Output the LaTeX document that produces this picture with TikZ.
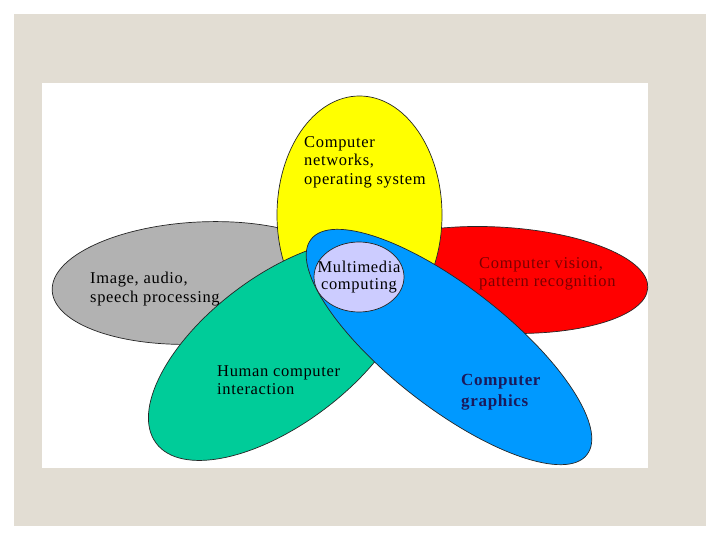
\documentclass[tikz,border=0pt]{standalone}
\usepackage{fontspec}
\setmainfont{Liberation Serif}
\newfontfamily\lbl[LetterSpace=4]{Liberation Serif}
\usetikzlibrary{shapes.geometric}
\definecolor{bgbeige}{HTML}{E2DDD3}
\definecolor{petalyellow}{HTML}{FFFF00}
\definecolor{petalgray}{HTML}{B2B2B2}
\definecolor{petalred}{HTML}{FF0000}
\definecolor{petalgreen}{HTML}{00CC99}
\definecolor{petalblue}{HTML}{0099FF}
\definecolor{corelav}{HTML}{CCCCFF}
\definecolor{navytxt}{HTML}{1A1A5C}
\definecolor{redtxt}{HTML}{7A0000}
\begin{document}
\begin{tikzpicture}[x=1pt,y=-1pt,
  petal/.style={ellipse, draw=black!85, line width=0.7pt, inner sep=0pt},
  lbltext/.style={font=\lbl\fontsize{16.5}{18.5}\selectfont, align=left, anchor=west, inner sep=0pt}]
\useasboundingbox (0,0) rectangle (720,540);
\fill[white] (0,0) rectangle (720,540);
\fill[bgbeige] (14,14) rectangle (706,526);
\fill[white] (42,83) rectangle (648,468);
% petals, back to front
\node[petal, fill=petalred, minimum width=302pt, minimum height=106pt, rotate=-3] (red) at (497,280) {};
\node[petal, fill=petalgray, minimum width=296pt, minimum height=122pt, rotate=3] (gray) at (200,283) {};
\node[petal, fill=petalyellow, minimum width=165pt, minimum height=238pt] (yellow) at (359.5,215) {};
\node[petal, fill=petalgreen, minimum width=310pt, minimum height=148pt, rotate=37] (green) at (280,350) {};
\node[petal, fill=petalblue, minimum width=350pt, minimum height=120pt, rotate=-38] (blue) at (449,347) {};
\node[petal, fill=corelav, minimum width=90pt, minimum height=70pt] (core) at (359,277) {};
\node[align=center, inner sep=0pt, font=\lbl\fontsize{16.5}{17}\selectfont] (tcore) at (core.center) {Multimedia\\computing};
% labels
\node[lbltext] (tyellow) at (304,162) {Computer\\networks,\\operating system};
\node[lbltext] (tgray) at (90,289) {Image, audio,\\speech processing};
\node[lbltext, text=redtxt] (tred) at (479,274) {Computer vision,\\pattern recognition};
\node[lbltext] (tgreen) at (217,380) {Human computer\\interaction};
\node[lbltext, font=\lbl\bfseries\fontsize{17}{20.5}\selectfont, text=navytxt] (tblue) at (461,392) {Computer\\graphics};
\end{tikzpicture}
\end{document}
